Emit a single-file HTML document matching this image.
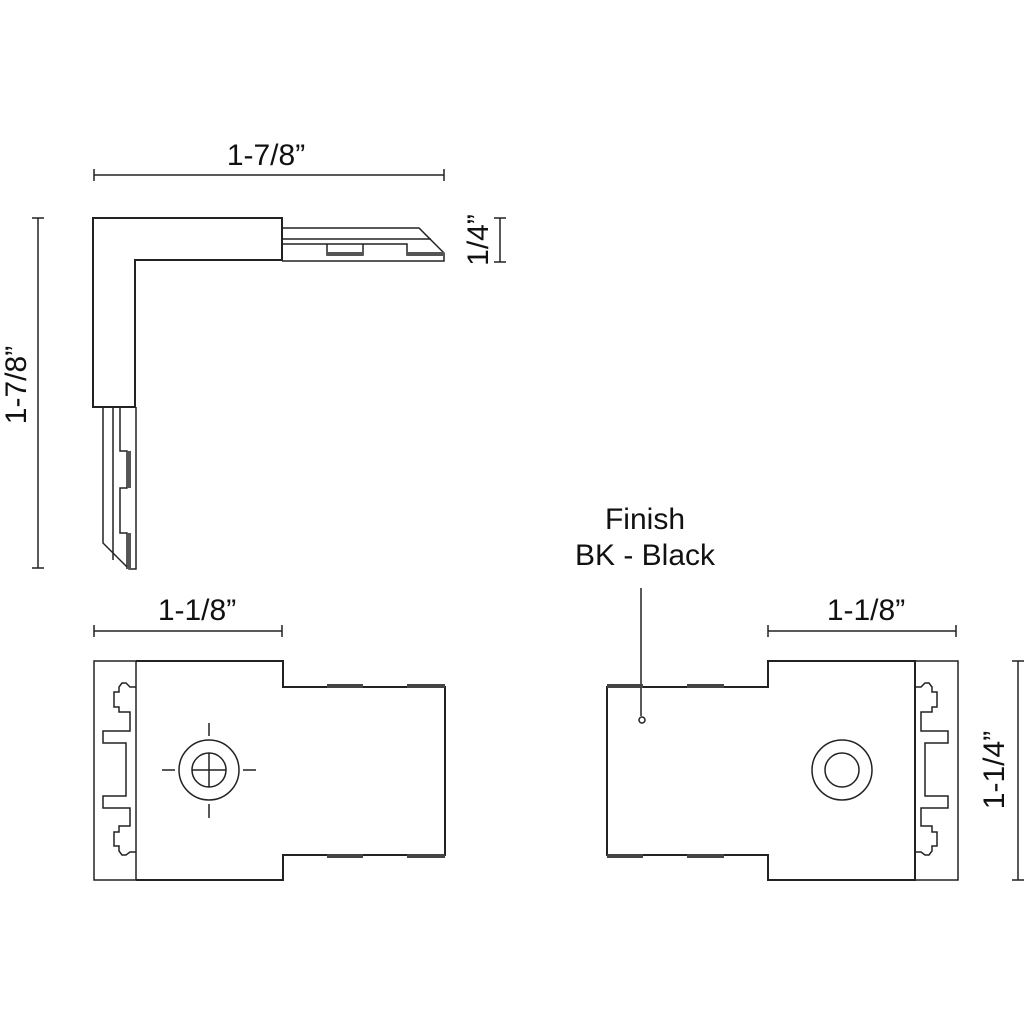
<!DOCTYPE html>
<html><head><meta charset="utf-8"><style>html,body{margin:0;padding:0;background:#fff}svg{display:block}</style></head>
<body>
<svg width="1024" height="1024" viewBox="0 0 1024 1024" xmlns="http://www.w3.org/2000/svg">
<rect width="1024" height="1024" fill="#fff"/>
<g font-family="Liberation Sans, sans-serif" font-size="30" fill="#111" text-anchor="middle">
<text x="266" y="165">1-7/8”</text>
<text transform="translate(26,385) rotate(-90)">1-7/8”</text>
<text transform="translate(488,240) rotate(-90)">1/4”</text>
<text x="197" y="620">1-1/8”</text>
<text x="866" y="620">1-1/8”</text>
<text transform="translate(1004,770) rotate(-90)">1-1/4”</text>
<text x="645" y="529">Finish</text>
<text x="645" y="565">BK - Black</text>
</g>
<g stroke="#222" stroke-width="1.5" fill="none">
<path d="M94 175H444M94 169V181M444 169V181"/>
<path d="M38 218V568M32 218H44M32 568H44"/>
<path d="M500 218V262M494 218H506M494 262H506"/>
<path d="M94 631H282M94 625V637M282 625V637"/>
<path d="M768 631H956M768 625V637M956 625V637"/>
<path d="M1018 661V880M1012 661H1024M1012 880H1024"/>
<path d="M641 588V716"/>
<circle cx="642" cy="720" r="3"/>
<path d="M93 218H282V260H135V407H93Z" stroke-width="2"/>
<path d="M282 228H419L444 253V261H282"/>
<path d="M282 239H431M282 244H407V255H444M282 244H327V255H363V244"/>
<path d="M103 407V543L129 569H136V407"/>
<path d="M113 407V560M120 407V451H127V488H120V533H127V569"/>
</g>
<g fill="#555">
<rect x="327" y="252" width="36" height="4"/><rect x="407" y="252" width="37" height="4"/>
<rect x="127" y="451" width="4" height="37"/><rect x="127" y="533" width="4" height="36"/>
</g>
<g stroke="#222" stroke-width="1.5" fill="none">
<rect x="94" y="661" width="42" height="219"/>
<path d="M136 661H283V687H445V855H283V880H136" stroke-width="2"/>
<path d="M136 687H130L126 683H122L119 687V692H114V707H119V712H130V731H103V743H126V796H103V808H130V826H119V832H114V846H119V851L122 855H126L130 852H136"/>
<circle cx="209" cy="770" r="30"/><circle cx="209" cy="770" r="17"/>
<path d="M192 770H226M209 753V787M162 770H175M243 770H256M209 723V736M209 804V818"/>
</g>
<g fill="#444">
<rect x="327" y="684" width="36" height="4"/><rect x="407" y="684" width="38" height="4"/>
<rect x="327" y="854" width="36" height="4"/><rect x="407" y="854" width="38" height="4"/>
</g>
<g stroke="#222" stroke-width="1.5" fill="none">
<path d="M607 687H768V661H915V880H768V855H607Z" stroke-width="2"/>
<rect x="915" y="661" width="43" height="219"/>
<path d="M915 687H921L925 683H929L932 687V692H937V707H932V712H921V731H948V743H925V796H948V808H921V826H932V832H937V846H932V851L929 855H925L921 852H915"/>
<circle cx="842" cy="770" r="30"/><circle cx="842" cy="770" r="17"/>
</g>
<g fill="#444">
<rect x="607" y="684" width="36" height="4"/><rect x="687" y="684" width="37" height="4"/>
<rect x="607" y="854" width="36" height="4"/><rect x="687" y="854" width="37" height="4"/>
</g>
</svg>
</body></html>
